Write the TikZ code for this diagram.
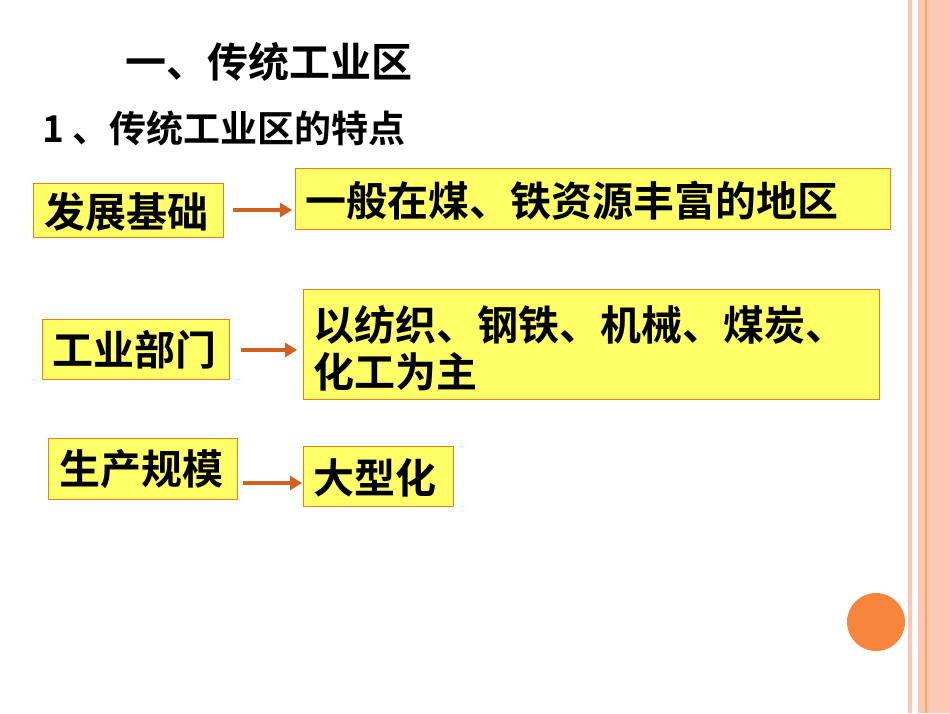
\documentclass[tikz,border=0pt]{standalone}
\usepackage{fontspec}
\usetikzlibrary{arrows.meta}
\newfontfamily\cjk{Noto Sans CJK SC Bold}
\definecolor{boxy}{HTML}{FFFF66}
\definecolor{stripe}{HTML}{FCC8B4}
\definecolor{arrc}{HTML}{D2601E}
\definecolor{circ}{HTML}{F7853C}
\begin{document}
\begin{tikzpicture}[x=1pt,y=-1pt,
 box/.style={draw=orange!70!brown,line width=1pt,fill=boxy},
 txt/.style={font=\cjk\fontsize{41}{47}\selectfont,align=left,anchor=west,inner sep=0pt},
 arr/.style={draw=arrc,line width=4pt,-{Triangle[length=12pt,width=14pt]}}]
\useasboundingbox (0,0) rectangle (950,713);
\fill[white] (0,0) rectangle (950,713);
\fill[stripe] (908,0) rectangle (912,713);
\fill[stripe] (918,0) rectangle (950,713);
\draw[orange!50!stripe,line width=1.2pt] (926,0) -- (926,713);
\node[font=\cjk\fontsize{41}{46}\selectfont,anchor=west,inner sep=0pt] (t1) at (125,62) {一、传统工业区};
\node[font=\cjk\fontsize{37}{42}\selectfont,anchor=west,inner sep=0pt] (t2) at (42,128) {1 、传统工业区的特点};
\filldraw[box] (33,183) rectangle (223,237);
\filldraw[box] (295,168) rectangle (890,229);
\filldraw[box] (42,319) rectangle (229,379);
\filldraw[box] (303,289) rectangle (879,399);
\filldraw[box] (48,438) rectangle (237,499);
\filldraw[box] (303,446) rectangle (453,506);
\node[txt] (a1) at (44,212) {发展基础};
\node[txt] (b1) at (305,201) {一般在煤、铁资源丰富的地区};
\node[txt] (a2) at (52,350) {工业部门};
\node[txt] (b2) at (313,348) {以纺织、钢铁、机械、煤炭、\\化工为主};
\node[txt] (a3) at (59,469) {生产规模};
\node[txt] (b3) at (313,478) {大型化};
\coordinate (p1) at (233,210); \coordinate (q1) at (292,210);
\coordinate (p2) at (241,350); \coordinate (q2) at (297,350);
\coordinate (p3) at (243,483); \coordinate (q3) at (302,483);
\draw[arr] (p1) -- (q1);
\draw[arr] (p2) -- (q2);
\draw[arr] (p3) -- (q3);
\fill[circ] (876,622) circle (29);
\end{tikzpicture}
\end{document}
